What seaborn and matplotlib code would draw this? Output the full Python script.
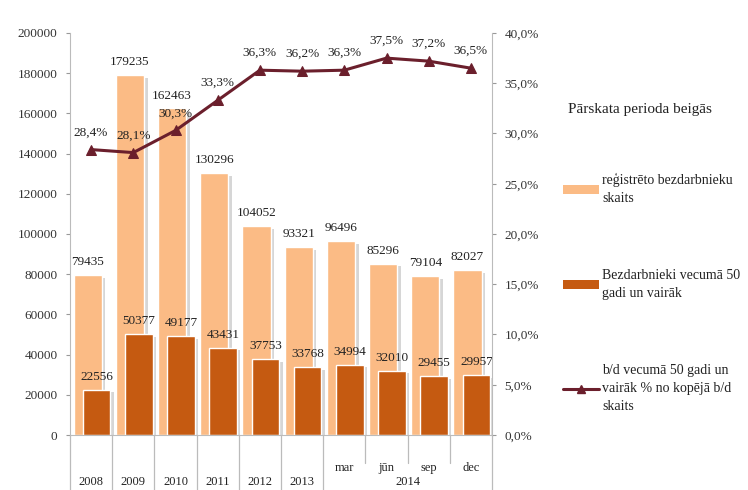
import numpy as np
import pandas as pd
import matplotlib
matplotlib.use("Agg")
import matplotlib.pyplot as plt
import matplotlib.patheffects as pe
from matplotlib.patches import Patch
from matplotlib.lines import Line2D
import seaborn as sns

# ---- data ----
categories = ["2008", "2009", "2010", "2011", "2012", "2013", "mar", "jūn", "sep", "dec"]
year_labels = ["2008", "2009", "2010", "2011", "2012", "2013"]
month_labels = ["mar", "jūn", "sep", "dec"]
group_2014 = "2014"
registered = [79435, 179235, 162463, 130296, 104052, 93321, 96496, 85296, 79104, 82027]
over50 = [22556, 50377, 49177, 43431, 37753, 33768, 34994, 32010, 29455, 29957]
share_pct = [28.4, 28.1, 30.3, 33.3, 36.3, 36.2, 36.3, 37.5, 37.2, 36.5]
left_ticks = [0, 20000, 40000, 60000, 80000, 100000, 120000, 140000, 160000, 180000, 200000]
right_ticks = [0, 5, 10, 15, 20, 25, 30, 35, 40]

legend_title = "Pārskata perioda beigās"
lab_reg = "reģistrēto bezdarbnieku\nskaits"
lab_50 = "Bezdarbnieki vecumā 50\ngadi un vairāk"
lab_pct = "b/d vecumā 50 gadi un\nvairāk % no kopējā b/d\nskaits"

light = "#FBBB85"
dark = "#C55A11"
linec = "#6B1F2C"

sns.set_style("white")
plt.rcParams["font.family"] = ["Liberation Serif", "DejaVu Serif"]

fig = plt.figure(figsize=(7.48, 4.90), dpi=100)
ax = fig.add_axes([70 / 748, 1 - 435 / 490, (492 - 70) / 748, (435 - 33) / 490])

df = pd.DataFrame({"cat": categories, "reg": registered, "o50": over50})
x = np.arange(len(categories))
shadow = [pe.SimplePatchShadow(offset=(2.5, -2), shadow_rgbFace="#9A9A9A", alpha=0.4), pe.Normal()]

sns.barplot(data=df, x="cat", y="reg", color=light, width=0.67, saturation=1, ax=ax)
n1 = len(ax.patches)
for p in ax.patches[:n1]:
    p.set_x(p.get_x() - 0.08)
    p.set_path_effects(shadow)
sns.barplot(data=df, x="cat", y="o50", color=dark, width=0.65, saturation=1, ax=ax)
for p in ax.patches[n1:]:
    p.set_x(p.get_x() + 0.13)
    p.set_path_effects(shadow)

ax.set_xlim(-0.5, len(categories) - 0.5)
ax.set_ylim(0, 200000)
ax.set_yticks(left_ticks)
ax.set_yticklabels([str(v) for v in left_ticks], fontsize=9.5, color="#333333")
ax.set_xticks([])
ax.set_xlabel("")
ax.set_ylabel("")
ax.tick_params(axis="y", length=3, color="#999999", pad=6)
for s in ["top", "right"]:
    ax.spines[s].set_visible(False)
ax.spines["left"].set_color("#BBBBBB")
ax.spines["bottom"].set_color("#BBBBBB")

# value labels on bars
for i in range(len(categories)):
    ax.annotate(str(registered[i]), (i - 0.08, registered[i]), xytext=(0, 5), textcoords="offset points",
                ha="center", va="bottom", fontsize=9.5, color="#222222")
    ax.annotate(str(over50[i]), (i + 0.13, over50[i]), xytext=(0, 5), textcoords="offset points",
                ha="center", va="bottom", fontsize=9.5, color="#222222")

# right axis with line
ax2 = ax.twinx()
sns.lineplot(x=x, y=share_pct, color=linec, marker="^", markersize=7, linewidth=2.2,
             markeredgecolor=linec, ax=ax2)
ax2.set_ylim(0, 40)
ax2.set_yticks(right_ticks)
ax2.set_yticklabels([f"{v:.1f}%".replace(".", ",") for v in right_ticks], fontsize=9.5, color="#333333")
ax2.tick_params(axis="y", length=3, color="#999999", pad=6)
for s in ["top", "left", "bottom"]:
    ax2.spines[s].set_visible(False)
ax2.spines["right"].set_color("#BBBBBB")
for i, v in enumerate(share_pct):
    ax2.annotate(f"{v:.1f}%".replace(".", ","), (i, v), xytext=(0, 8), textcoords="offset points",
                 ha="center", va="bottom", fontsize=9.5, color="#222222")

# two-level category axis
trans = matplotlib.transforms.blended_transform_factory(ax.transData, ax.transAxes)
ph = 402.0
for i, lab in enumerate(year_labels):
    ax.text(i, -47 / ph, lab, transform=trans, ha="center", va="center", fontsize=9, color="#222222")
for j, lab in enumerate(month_labels):
    ax.text(6 + j, -33 / ph, lab, transform=trans, ha="center", va="center", fontsize=9, color="#222222")
ax.text(7.5, -47 / ph, group_2014, transform=trans, ha="center", va="center", fontsize=9, color="#222222")
for k in range(len(categories) + 1):
    xb = k - 0.5
    bottom = -0.137 if (k <= 6 or k == len(categories)) else -0.07
    ax.plot([xb, xb], [0, bottom], transform=trans, color="#BBBBBB", lw=0.9, clip_on=False)

# legend
fig.text(640 / 748, 1 - 110 / 490, legend_title, ha="center", va="center", fontsize=11, color="#222222")
handles = [
    Patch(facecolor=light, edgecolor="none"),
    Patch(facecolor=dark, edgecolor="none"),
    Line2D([0], [0], color=linec, lw=2.2, marker="^", markersize=6),
]
leg = fig.legend(handles, [lab_reg, lab_50, lab_pct], loc="upper left",
                 bbox_to_anchor=(563 / 748, 1 - 173 / 490), frameon=False, fontsize=10,
                 borderpad=0, borderaxespad=0,
                 labelspacing=4.6, handlelength=2.6, handleheight=0.6, handletextpad=0.2)
for t in leg.get_texts():
    t.set_color("#222222")
    t.set_linespacing(1.5)

fig.savefig("out.png", dpi=100)
